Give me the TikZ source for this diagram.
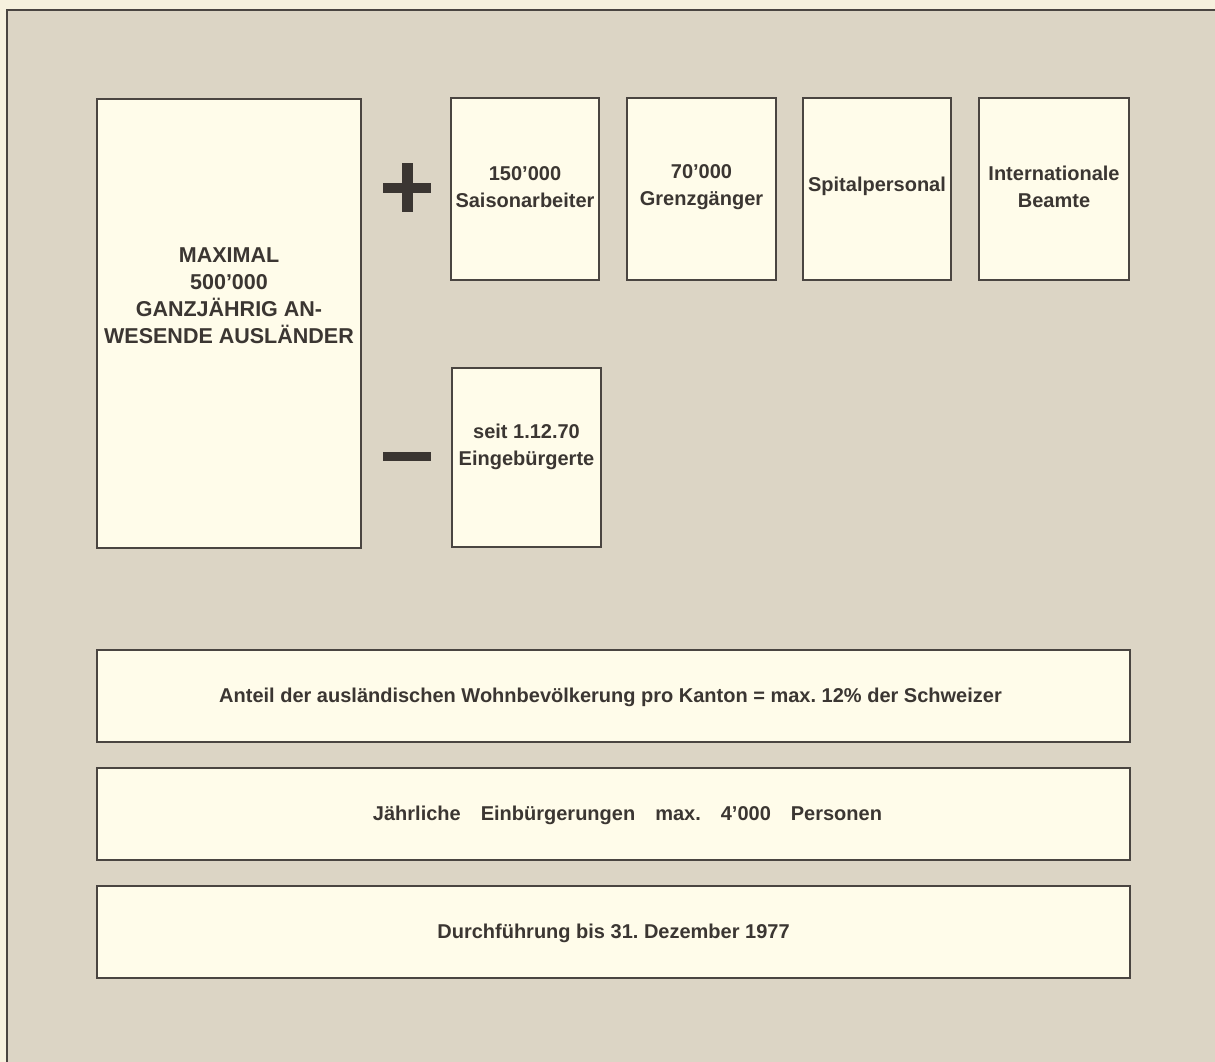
\documentclass[tikz,border=0pt]{standalone}
\usepackage{fontspec}
\setmainfont{Liberation Sans}
\frenchspacing
\definecolor{outerbg}{HTML}{F6F1DE}
\definecolor{innerbg}{HTML}{DCD5C5}
\definecolor{boxfill}{HTML}{FFFCEA}
\definecolor{edge}{HTML}{4A4541}
\definecolor{ink}{HTML}{3B3632}
\tikzset{
  card/.style={draw=edge, line width=2.6pt, fill=boxfill, anchor=north west, inner sep=0pt, outer sep=0pt},
  smalltxt/.style={text=ink, font=\fontsize{20}{27}\selectfont\bfseries, align=center, inner sep=0pt},
  bigtxt/.style={text=ink, font=\fontsize{21.5}{27}\selectfont\bfseries, align=center, inner sep=0pt},
  widetxt/.style={text=ink, font=\fontsize{20}{24}\selectfont\bfseries, inner sep=0pt, text height=14.5pt, text depth=4pt},
  sign/.style={fill=ink, draw=none}
}
\begin{document}
\begin{tikzpicture}[x=1pt,y=-1pt]
\useasboundingbox (0,0) rectangle (1215,1062);
% background
\fill[outerbg] (0,0) rectangle (1215,1062);
\fill[innerbg] (7,10) rectangle (1215,1062);
\draw[edge, line width=2pt] (7,1062) -- (7,10) -- (1215,10);

% big box
\node[card, minimum width=264pt, minimum height=449pt] (big) at (97,99) {};
\node[bigtxt] (bigt) at (229,296) {MAXIMAL\\500’000\\GANZJÄHRIG AN-\\WESENDE AUSLÄNDER};

% top small boxes
\node[card, minimum width=148pt, minimum height=182pt] (b1) at (451,98) {};
\node[card, minimum width=149pt, minimum height=182pt] (b2) at (627,98) {};
\node[card, minimum width=148pt, minimum height=182pt] (b3) at (803,98) {};
\node[card, minimum width=150pt, minimum height=182pt] (b4) at (979,98) {};
\node[smalltxt] (t1) at (525,187) {150’000\\Saisonarbeiter};
\node[smalltxt] (t2) at (701.5,187) {70’000\\Grenzgänger};
\node[smalltxt, text height=14.5pt, text depth=4pt] (t3) at (877,186) {Spitalpersonal};
\node[smalltxt] (t4) at (1054,187) {Internationale\\Beamte};

% minus box
\node[card, minimum width=149pt, minimum height=179pt] (m1) at (452,368) {};
\node[smalltxt] (tm) at (526.5,447) {seit 1.12.70\\Eingebürgerte};

% plus and minus signs
\fill[sign] (383,183) rectangle (431,193);
\fill[sign] (402,163) rectangle (413,212);
\fill[sign] (383,452) rectangle (431,461);

% wide boxes
\node[card, minimum width=1033pt, minimum height=92pt] (w1) at (97,650) {};
\node[card, minimum width=1033pt, minimum height=92pt] (w2) at (97,768) {};
\node[card, minimum width=1033pt, minimum height=92pt] (w3) at (97,886) {};
\node[widetxt] (wt1) at (610.5,697) {Anteil der ausländischen Wohnbevölkerung pro Kanton = max. 12\% der Schweizer};
\node[widetxt] (wt2) at (627.5,815) {Jährliche\hspace{20pt}Einbürgerungen\hspace{20pt}max.\hspace{20pt}4’000\hspace{20pt}Personen};
\node[widetxt] (wt3) at (613.5,933) {Durchführung bis 31. Dezember 1977};
\end{tikzpicture}
\end{document}
